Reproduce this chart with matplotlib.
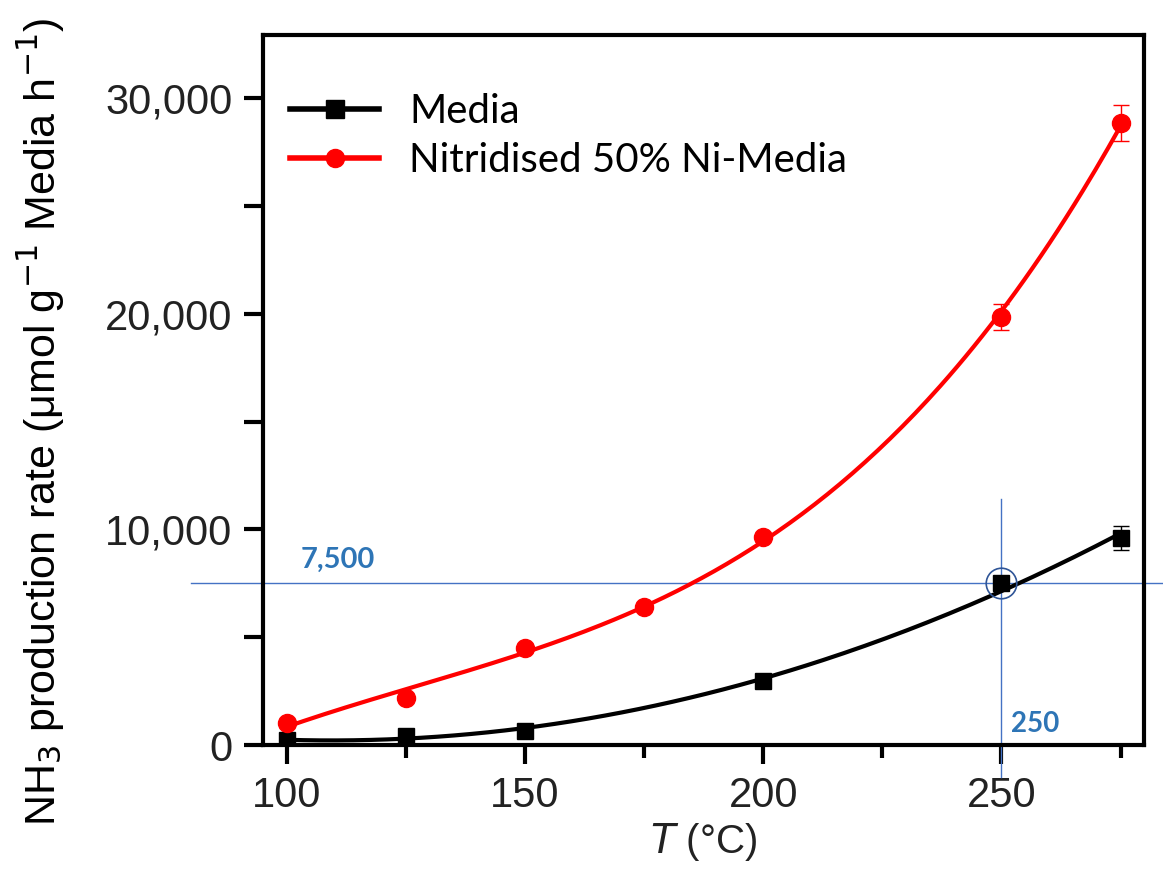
import numpy as np
import matplotlib.pyplot as plt
from matplotlib.lines import Line2D

# temperatures (°C)
temp_media = [100, 125, 150, 200, 250, 275]
rate_media = [250, 420, 650, 2970, 7500, 9600]
err_media = [0, 0, 0, 0, 300, 550]

temp_ni = [100, 125, 150, 175, 200, 250, 275]
rate_ni = [1020, 2180, 4500, 6400, 9640, 19840, 28840]
err_ni = [0, 0, 0, 0, 0, 600, 850]

x_mark = 250
y_mark = 7500

plt.rcParams['font.family'] = ['Liberation Sans', 'DejaVu Sans']

fig = plt.figure(figsize=(11.63, 8.86), dpi=100)
ax = fig.add_axes([0.226, 0.159, 0.758, 0.801])

# smooth fitted curves through the measured points
xs = np.linspace(100, 275, 200)
fit_media = np.polyfit(temp_media, rate_media, 2)
fit_ni = np.polyfit(temp_ni, rate_ni, 3)
ax.plot(xs, np.polyval(fit_media, xs), color='black', lw=3, zorder=3)
ax.plot(xs, np.polyval(fit_ni, xs), color='#ff0000', lw=3, zorder=3)

ax.errorbar(temp_media, rate_media, yerr=err_media, fmt='s', color='black',
            ms=11, capsize=6, elinewidth=1, capthick=1, zorder=4)
ax.errorbar(temp_ni, rate_ni, yerr=err_ni, fmt='o', color='#ff0000',
            ms=13, capsize=6, elinewidth=1, capthick=1, zorder=4)

# highlight of the 250 °C / 7,500 point
blue = '#4472c4'
ax.plot([x_mark], [y_mark], 'o', ms=22, mfc='none', mec='#2f5597', mew=1.2, zorder=5)
ax.plot([80, 290], [y_mark, y_mark], color=blue, lw=1, clip_on=False, zorder=2)
ax.plot([x_mark, x_mark], [-1500, 11400], color=blue, lw=1, clip_on=False, zorder=2)
ax.text(103, 8200, '7,500', color='#2e75b6', fontsize=21, fontweight='bold',
        family=['Lato', 'DejaVu Sans'])
ax.text(252, 600, '250', color='#2e75b6', fontsize=20, fontweight='bold',
        family=['Lato', 'DejaVu Sans'])

ax.set_xlim(95, 280)
ax.set_ylim(0, 32900)
ax.set_xticks([100, 150, 200, 250])
ax.set_xticks([125, 175, 225, 275], minor=True)
ax.set_yticks([0, 10000, 20000, 30000])
ax.set_yticklabels(['0', '10,000', '20,000', '30,000'])
ax.set_yticks([5000, 15000, 25000], minor=True)

for s in ax.spines.values():
    s.set_linewidth(3)
ax.tick_params(axis='both', which='major', direction='out', length=14, width=3,
               labelsize=30, pad=8)
ax.tick_params(axis='x', which='minor', direction='out', length=9, width=3)
ax.tick_params(axis='y', which='minor', direction='out', length=14, width=3)
for lab in ax.get_xticklabels() + ax.get_yticklabels():
    lab.set_color('#222222')

ax.set_xlabel('$T$ (°C)', fontsize=29, labelpad=4, color='#222222')
ax.set_ylabel('NH$_3$ production rate (μmol g$^{-1}$ Media h$^{-1}$)', fontsize=31)
ax.yaxis.set_label_coords(-0.222, 0.455)

handles = [
    Line2D([], [], color='black', lw=4, marker='s', ms=13),
    Line2D([], [], color='#ff0000', lw=4, marker='o', ms=13),
]
leg = ax.legend(handles, ['Media', 'Nitridised 50% Ni-Media'], loc='upper left',
                frameon=False, handlelength=2.2, handletextpad=0.75,
                bbox_to_anchor=(-0.01, 0.97), labelspacing=0.3,
                prop={'family': ['Lato', 'DejaVu Sans'], 'size': 29})

fig.savefig('out.png', dpi=100)
